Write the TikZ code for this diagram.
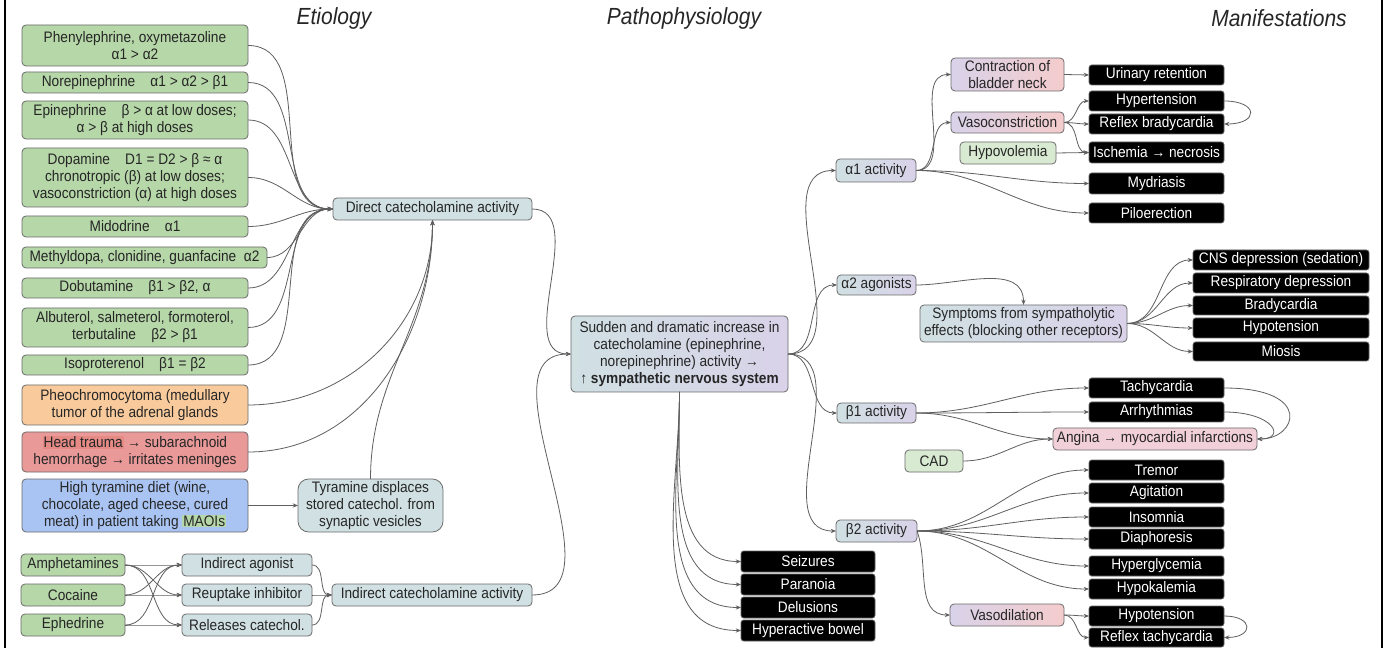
\documentclass[tikz,border=0pt]{standalone}
\usepackage{fontspec}
\setmainfont{Liberation Sans}[FakeStretch=0.9]
\usetikzlibrary{arrows.meta}
\definecolor{gfill}{HTML}{B6D7A8}
\definecolor{ofill}{HTML}{F9CB9C}
\definecolor{rfill}{HTML}{EA9999}
\definecolor{rhl}{HTML}{E58A85}
\definecolor{bfill}{HTML}{A9C4F2}
\definecolor{cfill}{HTML}{D0E0E3}
\definecolor{lgfill}{HTML}{D9EAD3}
\definecolor{ll}{HTML}{D0E0E3}
\definecolor{lr}{HTML}{D9D2E9}
\definecolor{pl}{HTML}{D9D2E9}
\definecolor{pr}{HTML}{F4CCCC}
\definecolor{angf}{HTML}{F2D0DA}
\definecolor{bord}{HTML}{6B6B6B}
\definecolor{lc}{HTML}{5F5F5F}
\definecolor{txt}{HTML}{262626}
\newcommand\mkbox[7]{\node[#1,minimum width={(#5-#3)*0.75pt},minimum height={(#6-#4)*0.75pt}] (#2) at ({(#3+#5)/2},{(#4+#6)/2}) {#7};}
\begin{document}
\begin{tikzpicture}[x=0.75pt,y=-0.75pt,
 boxbase/.style={draw=bord, line width=0.6pt, rounded corners=3pt, inner sep=0pt, outer sep=0pt, align=center, font=\fontsize{11.4}{12.75}\selectfont, text=txt},
 gbox/.style={boxbase, fill=gfill},
 obox/.style={boxbase, fill=ofill},
 rbox/.style={boxbase, fill=rfill},
 bbox/.style={boxbase, fill=bfill},
 cbox/.style={boxbase, fill=cfill},
 pbox/.style={boxbase, left color=pl, right color=pr},
 lbox/.style={boxbase, left color=ll, right color=lr},
 lgbox/.style={boxbase, fill=lgfill},
 angbox/.style={boxbase, fill=angf},
 kbox/.style={boxbase, fill=black, draw=black!60, text=white, rounded corners=2pt},
 ar/.style={draw=lc, line width=0.6pt, -{Stealth[length=4pt,width=3.2pt]}},
 ttl/.style={font=\fontsize{17.5}{20}\selectfont\itshape, text=black!85}
]
\useasboundingbox (0,0) rectangle (1385,648);
\fill[white] (0,0) rectangle (1385,648);
\draw[line width=1.2pt] (5,0) -- (5,648);
\draw[line width=1.2pt] (1382,0) -- (1382,648);

% titles
\node[ttl] (t1) at (334,18) {Etiology};
\node[ttl] (t2) at (684,18) {Pathophysiology};
\node[ttl] (t3) at (1279,18) {Manifestations};

% Etiology
\mkbox{gbox}{phen}{22}{25}{248}{66}{Phenylephrine, oxymetazoline\\α1 > α2}
\mkbox{gbox}{nore}{22}{72}{248}{93}{Norepinephrine\quad α1 > α2 > β1}
\mkbox{gbox}{epi}{22}{101}{248}{139}{Epinephrine\quad β > α at low doses;\\α > β at high doses}
\mkbox{gbox}{dopa}{22}{148}{248}{207}{Dopamine\quad D1 = D2 > β ≈ α\\chronotropic (β) at low doses;\\vasoconstriction (α) at high doses}
\mkbox{gbox}{mido}{22}{216}{248}{237}{Midodrine\quad α1}
\mkbox{gbox}{meth}{22}{247}{267}{268}{Methyldopa, clonidine, guanfacine\enspace α2}
\mkbox{gbox}{dobu}{22}{278}{248}{298}{Dobutamine\quad β1 > β2, α}
\mkbox{gbox}{albu}{22}{308}{248}{347}{Albuterol, salmeterol, formoterol,\\terbutaline\quad β2 > β1}
\mkbox{gbox}{iso}{22}{355}{248}{375}{Isoproterenol\quad β1 = β2}
\mkbox{obox}{pheo}{22}{385}{248}{425}{Pheochromocytoma (medullary\\tumor of the adrenal glands}
\mkbox{rbox}{head}{22}{432}{248}{472}{{\fboxsep=0.6pt\colorbox{rhl}{Head trauma}} → subarachnoid\\hemorrhage → irritates meninges}
\mkbox{bbox}{tyr}{22}{479}{248}{532}{High tyramine diet (wine,\\chocolate, aged cheese, cured\\meat) in patient taking {\fboxsep=0.6pt\colorbox{gfill}{MAOIs}}}
\mkbox{cbox,rounded corners=8pt}{tyd}{298}{479}{443}{532}{Tyramine displaces\\stored catechol. from\\synaptic vesicles}
\mkbox{gbox}{amph}{21}{554}{125}{576}{Amphetamines}
\mkbox{gbox}{coc}{21}{584}{125}{606}{Cocaine}
\mkbox{gbox}{eph}{21}{614}{125}{636}{Ephedrine}
\mkbox{cbox}{ia}{182}{554}{312}{576}{Indirect agonist}
\mkbox{cbox}{ri}{182}{584}{312}{606}{Reuptake inhibitor}
\mkbox{cbox}{rc}{182}{614}{312}{636}{Releases catechol.}
\mkbox{cbox}{ica}{332}{584}{532}{606}{Indirect catecholamine activity}
\mkbox{cbox}{dca}{333}{198}{532}{220}{Direct catecholamine activity}

% Pathophysiology
\mkbox{lbox}{sud}{571}{316}{788}{392}{Sudden and dramatic increase in\\catecholamine (epinephrine,\\norepinephrine) activity →\\↑ \textbf{sympathetic nervous system}}
\mkbox{kbox}{seiz}{741}{551}{875}{572}{Seizures}
\mkbox{kbox}{para}{741}{574}{875}{595}{Paranoia}
\mkbox{kbox}{delu}{741}{597}{875}{618}{Delusions}
\mkbox{kbox}{hyb}{741}{620}{875}{641}{Hyperactive bowel}

% Manifestations
\mkbox{lbox}{a1}{836}{159}{916}{182}{α1 activity}
\mkbox{pbox}{bn}{951}{58}{1064}{91}{Contraction of\\bladder neck}
\mkbox{pbox}{vc}{951}{112}{1064}{133}{Vasoconstriction}
\mkbox{lgbox}{hv}{960}{142}{1056}{164}{Hypovolemia}
\mkbox{kbox}{ur}{1089}{65}{1224}{85}{Urinary retention}
\mkbox{kbox}{ht}{1089}{91}{1224}{111}{Hypertension}
\mkbox{kbox}{rb}{1089}{114}{1224}{134}{Reflex bradycardia}
\mkbox{kbox}{isch}{1089}{142}{1224}{163}{Ischemia → necrosis}
\mkbox{kbox}{myd}{1089}{173}{1224}{194}{Mydriasis}
\mkbox{kbox}{pilo}{1089}{203}{1224}{223}{Piloerection}
\mkbox{lbox}{a2}{837}{275}{916}{295}{α2 agonists}
\mkbox{lbox}{sym}{920}{305}{1127}{342}{Symptoms from sympatholytic\\effects (blocking other receptors)}
\mkbox{kbox}{cns}{1193}{250}{1369}{270}{CNS depression (sedation)}
\mkbox{kbox}{resp}{1193}{273}{1369}{293}{Respiratory depression}
\mkbox{kbox}{brad}{1193}{296}{1369}{315}{Bradycardia}
\mkbox{kbox}{hypoa}{1193}{318}{1369}{338}{Hypotension}
\mkbox{kbox}{mio}{1193}{342}{1369}{361}{Miosis}
\mkbox{lbox}{b1}{837}{403}{916}{423}{β1 activity}
\mkbox{kbox}{tach}{1089}{378}{1224}{398}{Tachycardia}
\mkbox{kbox}{arr}{1089}{402}{1224}{422}{Arrhythmias}
\mkbox{angbox}{ang}{1053}{428}{1257}{450}{Angina → myocardial infarctions}
\mkbox{lgbox}{cad}{905}{450}{963}{472}{CAD}
\mkbox{lbox}{b2}{836}{520}{917}{542}{β2 activity}
\mkbox{kbox}{trem}{1089}{460}{1224}{480}{Tremor}
\mkbox{kbox}{agit}{1089}{483}{1224}{503}{Agitation}
\mkbox{kbox}{inso}{1089}{507}{1224}{527}{Insomnia}
\mkbox{kbox}{diap}{1089}{529}{1224}{549}{Diaphoresis}
\mkbox{kbox}{hglc}{1089}{556}{1224}{576}{Hyperglycemia}
\mkbox{kbox}{hkal}{1089}{579}{1224}{599}{Hypokalemia}
\mkbox{pbox}{vd}{950}{604}{1064}{626}{Vasodilation}
\mkbox{kbox}{hypob}{1089}{606}{1224}{626}{Hypotension}
\mkbox{kbox}{rtach}{1089}{628}{1224}{647}{Reflex tachycardia}

% connectors: etiology
\foreach \n in {phen,nore,epi,dopa,mido,meth,dobu,albu,iso}
  \draw[ar] (\n.east) to[out=0,in=180] (dca.west);
\draw[ar] (pheo.east) to[out=0,in=-90] (dca.south);
\draw[ar] (head.east) to[out=0,in=-90] (dca.south);
\draw[ar] (tyd.north) to[out=90,in=-90] (dca.south);
\draw[ar] (tyr.east) -- (tyd.west);
\draw[ar] (amph.east) to[out=0,in=180] (ia.west);
\draw[ar] (amph.east) to[out=0,in=180] (ri.west);
\draw[ar] (amph.east) to[out=0,in=180] (rc.west);
\draw[ar] (coc.east) to[out=0,in=180] (ia.west);
\draw[ar] (coc.east) to[out=0,in=180] (ri.west);
\draw[ar] (eph.east) to[out=0,in=180] (ia.west);
\draw[ar] (eph.east) to[out=0,in=180] (rc.west);
\foreach \n in {ia,ri,rc}
  \draw[ar] (\n.east) to[out=0,in=180] (ica.west);
\draw[ar] (dca.east) to[out=0,in=180] (sud.west);
\draw[ar] (ica.east) to[out=0,in=180] (sud.west);

% pathophysiology
\foreach \n in {seiz,para,delu,hyb}
  \draw[ar] (sud.south) to[out=-90,in=180] (\n.west);
\foreach \n in {a1,a2,b1,b2}
  \draw[ar] (sud.east) to[out=0,in=180] (\n.west);

% alpha1
\foreach \n in {bn,vc,myd,pilo}
  \draw[ar] (a1.east) to[out=0,in=180] (\n.west);
\draw[ar] (bn.east) -- (ur.west);
\foreach \n in {ht,rb,isch}
  \draw[ar] (vc.east) to[out=0,in=180] (\n.west);
\draw[ar] (hv.east) -- (isch.west);
\draw[ar] (ht.east) .. controls +(35,0) and +(35,0) .. (rb.east);

% alpha2
\draw[ar] (a2.east) to[out=0,in=90] (sym.north);
\foreach \n in {cns,resp,brad,hypoa,mio}
  \draw[ar] (sym.east) to[out=0,in=180] (\n.west);

% beta1
\foreach \n in {tach,arr,ang}
  \draw[ar] (b1.east) to[out=0,in=180] (\n.west);
\draw[ar] (cad.east) to[out=0,in=180] (ang.west);
\draw[ar] (tach.east) .. controls +(90,0) and +(40,0) .. (ang.east);
\draw[ar] (arr.east) .. controls +(50,0) and +(30,0) .. (ang.east);

% beta2
\foreach \n in {trem,agit,inso,diap,hglc,hkal}
  \draw[ar] (b2.east) to[out=0,in=180] (\n.west);
\draw[ar] (b2.east) to[out=-70,in=180] (vd.west);
\draw[ar] (vd.east) to[out=0,in=180] (hypob.west);
\draw[ar] (vd.east) to[out=0,in=180] (rtach.west);
\draw[ar] (hypob.east) .. controls +(30,0) and +(30,0) .. (rtach.east);
\end{tikzpicture}
\end{document}
